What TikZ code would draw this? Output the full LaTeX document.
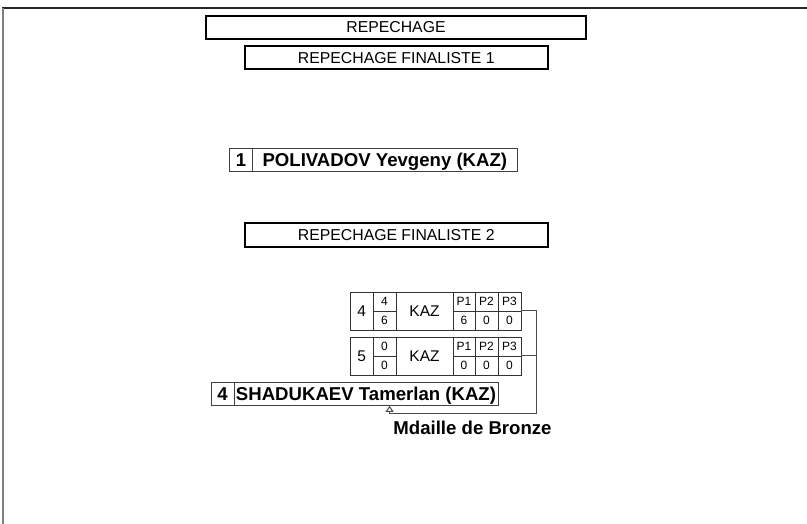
\documentclass[tikz,border=0pt]{standalone}
\usepackage{fontspec}
\setmainfont{Liberation Sans}
\usetikzlibrary{arrows.meta}
\begin{document}
\begin{tikzpicture}[x=1pt,y=-1pt,
  titlebox/.style={draw=black, line width=2pt, inner sep=0pt, font=\fontsize{15.8}{18}\selectfont, text height=11.3pt, text depth=0pt},
  namebox/.style={draw=black!75, line width=1pt, inner sep=0pt, font=\bfseries\fontsize{18.6}{21}\selectfont, text height=13.3pt, text depth=0pt},
  cell/.style={draw=black!80, line width=0.9pt, inner sep=0pt},
  bigtxt/.style={font=\fontsize{15.5}{18}\selectfont, text height=11.1pt, text depth=0pt},
  smalltxt/.style={font=\fontsize{12}{14}\selectfont, text height=8.6pt, text depth=0pt},
  conn/.style={draw=black!70, line width=1pt},
  medal/.style={font=\bfseries\fontsize{18.6}{21}\selectfont, inner sep=0pt},
]
\useasboundingbox (0,0) rectangle (807,524);
% page frame
\draw[black!85, line width=1.6pt] (2,8.2) -- (807,8.2);
\draw[gray, line width=2pt] (3,8) -- (3,524);

% titles
\node[titlebox, minimum width=380pt, minimum height=23.3pt] (rep) at (396,27.3) {REPECHAGE};
\node[titlebox, minimum width=303.5pt, minimum height=23.5pt] (fin1) at (396.25,57.75) {REPECHAGE FINALISTE 1};
\node[titlebox, minimum width=303.5pt, minimum height=24pt] (fin2) at (396.25,235) {REPECHAGE FINALISTE 2};

% finalist 1
\node[namebox, minimum width=23.2pt, minimum height=22.5pt] (p1n) at (241.1,160.25) {1};
\node[namebox, minimum width=264.3pt, minimum height=22.5pt] (p1name) at (384.85,160.25) {POLIVADOV Yevgeny (KAZ)};

% match row 1
\node[cell, bigtxt, minimum width=22.5pt, minimum height=38pt] (r1n) at (361.75,311) {4};
\node[cell, smalltxt, minimum width=23pt, minimum height=19pt] (r1st) at (384.5,301.5) {4};
\node[cell, smalltxt, minimum width=23pt, minimum height=19pt] (r1sb) at (384.5,320.5) {6};
\node[cell, bigtxt, minimum width=57pt, minimum height=38pt] (r1c) at (424.5,311) {KAZ};
\node[cell, smalltxt, minimum width=22pt, minimum height=19pt] (r1p1t) at (464,301.5) {P1};
\node[cell, smalltxt, minimum width=23pt, minimum height=19pt] (r1p2t) at (486.5,301.5) {P2};
\node[cell, smalltxt, minimum width=23pt, minimum height=19pt] (r1p3t) at (509.5,301.5) {P3};
\node[cell, smalltxt, minimum width=22pt, minimum height=19pt] (r1p1b) at (464,320.5) {6};
\node[cell, smalltxt, minimum width=23pt, minimum height=19pt] (r1p2b) at (486.5,320.5) {0};
\node[cell, smalltxt, minimum width=23pt, minimum height=19pt] (r1p3b) at (509.5,320.5) {0};

% match row 2
\node[cell, bigtxt, minimum width=22.5pt, minimum height=38pt] (r2n) at (361.75,356) {5};
\node[cell, smalltxt, minimum width=23pt, minimum height=19pt] (r2st) at (384.5,346.5) {0};
\node[cell, smalltxt, minimum width=23pt, minimum height=19pt] (r2sb) at (384.5,365.5) {0};
\node[cell, bigtxt, minimum width=57pt, minimum height=38pt] (r2c) at (424.5,356) {KAZ};
\node[cell, smalltxt, minimum width=22pt, minimum height=19pt] (r2p1t) at (464,346.5) {P1};
\node[cell, smalltxt, minimum width=23pt, minimum height=19pt] (r2p2t) at (486.5,346.5) {P2};
\node[cell, smalltxt, minimum width=23pt, minimum height=19pt] (r2p3t) at (509.5,346.5) {P3};
\node[cell, smalltxt, minimum width=22pt, minimum height=19pt] (r2p1b) at (464,365.5) {0};
\node[cell, smalltxt, minimum width=23pt, minimum height=19pt] (r2p2b) at (486.5,365.5) {0};
\node[cell, smalltxt, minimum width=23pt, minimum height=19pt] (r2p3b) at (509.5,365.5) {0};

% winner
\node[namebox, minimum width=23pt, minimum height=22.7pt] (wn) at (222.5,394) {4};
\node[namebox, minimum width=264pt, minimum height=22.7pt] (wname) at (366,394) {SHADUKAEV Tamerlan (KAZ)};

\node[medal, anchor=base] (medaltxt) at (472.5,434.5) {Mdaille de Bronze};

% connectors
\coordinate (jn) at (536,413);
\coordinate (ax) at (389.6,413);
\draw[conn, -{Triangle[open, length=6pt, width=8pt]}] (r1p3b.north east) -| (jn) -- (ax) -- (ax |- wname.south);
\draw[conn] (r2p3b.north east) -- (r2p3b.north east -| jn);
\end{tikzpicture}
\end{document}
